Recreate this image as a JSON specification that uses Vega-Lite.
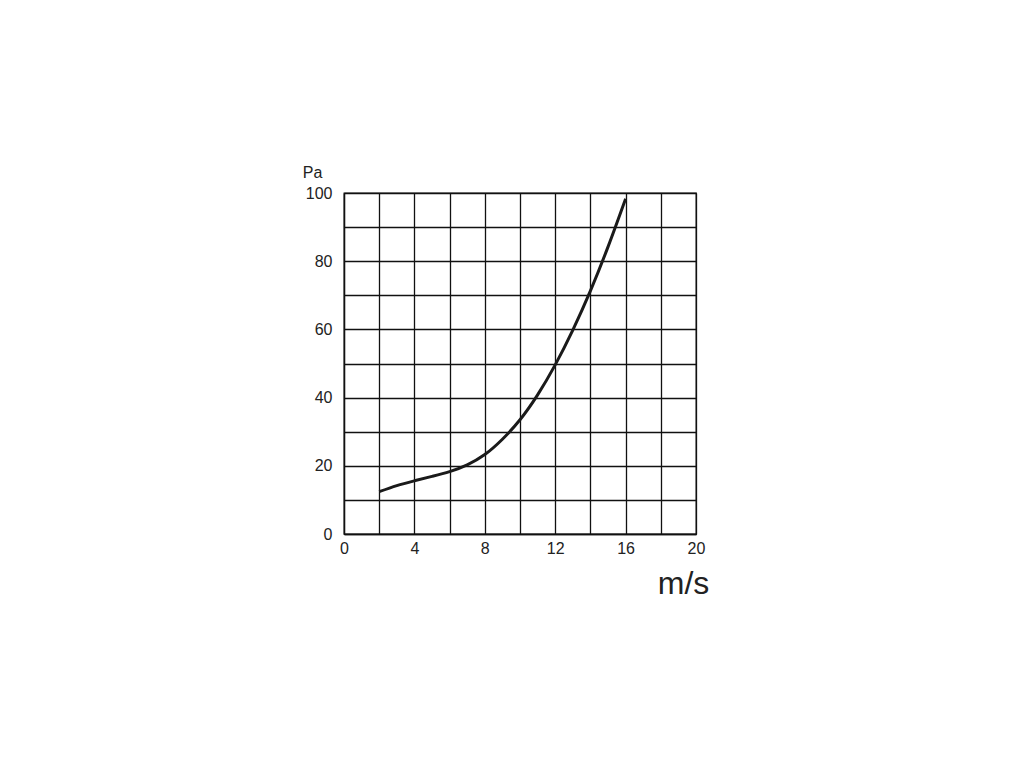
{
  "$schema": "https://vega.github.io/schema/vega-lite/v6.json",
  "autosize": "none",
  "width": 352,
  "height": 341,
  "padding": {"left": 344, "top": 193, "right": 328, "bottom": 234},
  "background": "white",
  "config": {"view": {"stroke": "#111", "strokeWidth": 1.3}, "font": "Liberation Sans"},
  "data": {"values": [
    {"v": 2, "p": 12.4},
    {"v": 3, "p": 14.2},
    {"v": 4, "p": 15.6},
    {"v": 5, "p": 16.9},
    {"v": 6, "p": 18.3},
    {"v": 7, "p": 20.3},
    {"v": 8, "p": 23.3},
    {"v": 9, "p": 27.8},
    {"v": 10, "p": 33.5},
    {"v": 11, "p": 40.8},
    {"v": 12, "p": 49.6},
    {"v": 13, "p": 59.8},
    {"v": 14, "p": 71.3},
    {"v": 15, "p": 84.2},
    {"v": 16, "p": 98.3}
  ]},
  "mark": {"type": "line", "interpolate": "natural", "color": "#1a1a1a", "strokeWidth": 3},
  "encoding": {
    "x": {
      "field": "v", "type": "quantitative",
      "scale": {"domain": [0, 20], "nice": false},
      "axis": {
        "values": [0, 2, 4, 6, 8, 10, 12, 14, 16, 18, 20],
        "labelExpr": "datum.value % 4 === 0 ? datum.label : ''",
        "grid": true, "gridColor": "#111", "gridWidth": 1.3, "gridOpacity": 1,
        "ticks": false, "domainColor": "#111", "domainWidth": 1.3,
        "labelFontSize": 16, "labelColor": "#222", "labelPadding": 6, "labelFlush": false,
        "title": "m/s", "titleFontSize": 32, "titleFontWeight": "normal", "titleColor": "#222",
        "titleX": 339, "titleY": 49, "titleAlign": "center", "titleBaseline": "middle"
      }
    },
    "y": {
      "field": "p", "type": "quantitative",
      "scale": {"domain": [0, 100], "nice": false},
      "axis": {
        "values": [0, 10, 20, 30, 40, 50, 60, 70, 80, 90, 100],
        "labelExpr": "datum.value % 20 === 0 ? datum.label : ''",
        "grid": true, "gridColor": "#111", "gridWidth": 1.3, "gridOpacity": 1,
        "ticks": false, "domainColor": "#111", "domainWidth": 1.3,
        "labelFontSize": 16, "labelColor": "#222", "labelPadding": 12, "labelFlush": false,
        "title": "Pa", "titleFontSize": 16, "titleFontWeight": "normal", "titleColor": "#222",
        "titleAngle": 0, "titleX": -32, "titleY": -21, "titleAlign": "center", "titleBaseline": "middle"
      }
    }
  }
}
